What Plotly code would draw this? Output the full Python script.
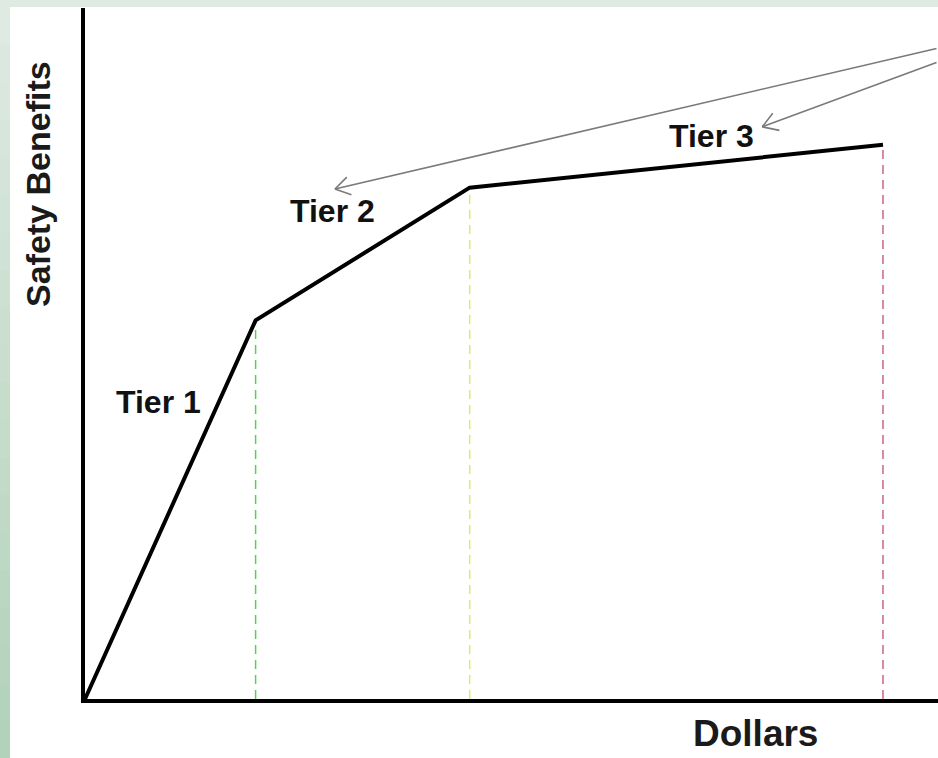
import plotly.graph_objects as go
import math

# Data
dollars = [0, 2.0, 4.51, 9.355]
benefits = [0, 5.48, 7.40, 8.02]
tier_labels = ["Tier 1", "Tier 2", "Tier 3"]
tier_label_x = [0.856, 2.907, 7.339]
tier_label_y = [4.30, 7.06, 8.15]
break_colors = ["#4fd44f", "#e6e66e", "#c9667f"]
arrow_tails_x = [10.0, 10.0]
arrow_tails_y = [9.42, 9.22]
arrow_tips_x = [2.93, 7.94]
arrow_tips_y = [7.38, 8.28]

W, H = 938, 758
ML, MT, MB, MR = 85, 8, 59, 0
pw, ph = W - ML - MR, H - MT - MB
XR, YR = [0, 10], [0, 10]
sx, sy = pw / (XR[1] - XR[0]), ph / (YR[1] - YR[0])

fig = go.Figure()

# dashed break lines
for xv, yv, c in zip(dollars[1:], benefits[1:], break_colors):
    fig.add_trace(go.Scatter(x=[xv, xv], y=[0, yv], mode="lines",
                             line=dict(color=c, width=1.5, dash="9px,6px"),
                             hoverinfo="skip", showlegend=False))

# main curve
fig.add_trace(go.Scatter(x=dollars, y=benefits, mode="lines",
                         line=dict(color="black", width=4),
                         hoverinfo="skip", showlegend=False))

FONT = "Liberation Sans, Arial, Helvetica, sans-serif"
annotations = []
for t, x, y in zip(tier_labels, tier_label_x, tier_label_y):
    annotations.append(dict(x=x, y=y, text="<b>" + t + "</b>", showarrow=False,
                            xanchor="center", yanchor="middle",
                            font=dict(family=FONT, size=32, color="#111")))

acol = "#7a7a7a"
for tx, ty, hx, hy in zip(arrow_tips_x, arrow_tips_y, arrow_tails_x, arrow_tails_y):
    annotations.append(dict(x=tx, y=ty, ax=hx, ay=hy,
                            axref="x", ayref="y", xref="x", yref="y", text="",
                            showarrow=True, arrowhead=0, arrowwidth=1.6,
                            arrowcolor=acol, standoff=0, startstandoff=0))
    # open V head, computed in pixel space
    dx = (hx - tx) * sx
    dy = -(hy - ty) * sy
    ang = math.atan2(dy, dx)
    for s in (-1, 1):
        a = ang + s * math.radians(32)
        L = 19
        annotations.append(dict(x=tx, y=ty, ax=L * math.cos(a), ay=L * math.sin(a),
                                xref="x", yref="y", text="", showarrow=True,
                                arrowhead=0, arrowwidth=1.6, arrowcolor=acol,
                                standoff=0, startstandoff=0))

def px2paper_x(p):
    return (p - ML) / pw
def px2paper_y(p):
    return (H - MB - p) / ph

annotations.append(dict(xref="paper", yref="paper", x=px2paper_x(38), y=px2paper_y(184),
                        xanchor="center", yanchor="middle",
                        text="<b>Safety Benefits</b>", textangle=-90, showarrow=False,
                        font=dict(family=FONT, size=34, color="#1a1a1a")))
annotations.append(dict(xref="paper", yref="paper", x=px2paper_x(755), y=px2paper_y(733),
                        xanchor="center", yanchor="middle",
                        text="<b>Dollars</b>", showarrow=False,
                        font=dict(family=FONT, size=37, color="#1a1a1a")))

# background: green frame with white panel
shapes = []
shapes.append(dict(type="rect", xref="paper", yref="paper", layer="below",
                   x0=px2paper_x(10), x1=px2paper_x(W + 2), y0=px2paper_y(H + 2), y1=px2paper_y(7),
                   fillcolor="white", line=dict(width=0)))
# left gradient strip
top_c = (222, 234, 226)
bot_c = (178, 210, 186)
n = 20
for i in range(n):
    f = i / (n - 1)
    c = tuple(int(top_c[k] + (bot_c[k] - top_c[k]) * f) for k in range(3))
    shapes.append(dict(type="rect", xref="paper", yref="paper", layer="below",
                       x0=px2paper_x(0), x1=px2paper_x(10),
                       y0=px2paper_y(7 + (H - 7) * (i + 1) / n + 1), y1=px2paper_y(7 + (H - 7) * i / n),
                       fillcolor="rgb(%d,%d,%d)" % c, line=dict(width=0)))

fig.update_layout(
    width=W, height=H,
    margin=dict(l=ML, r=MR, t=MT, b=MB),
    paper_bgcolor="#deeae2", plot_bgcolor="white",
    xaxis=dict(range=XR, showgrid=False, zeroline=False, showticklabels=False, ticks="",
               showline=True, linecolor="black", linewidth=4, fixedrange=True),
    yaxis=dict(range=YR, showgrid=False, zeroline=False, showticklabels=False, ticks="",
               showline=True, linecolor="black", linewidth=4, fixedrange=True),
    annotations=annotations, shapes=shapes, showlegend=False,
)
fig.write_html("out.html", config={"displayModeBar": False},
               post_script="document.body.style.margin='0';document.body.style.overflow='hidden';")
